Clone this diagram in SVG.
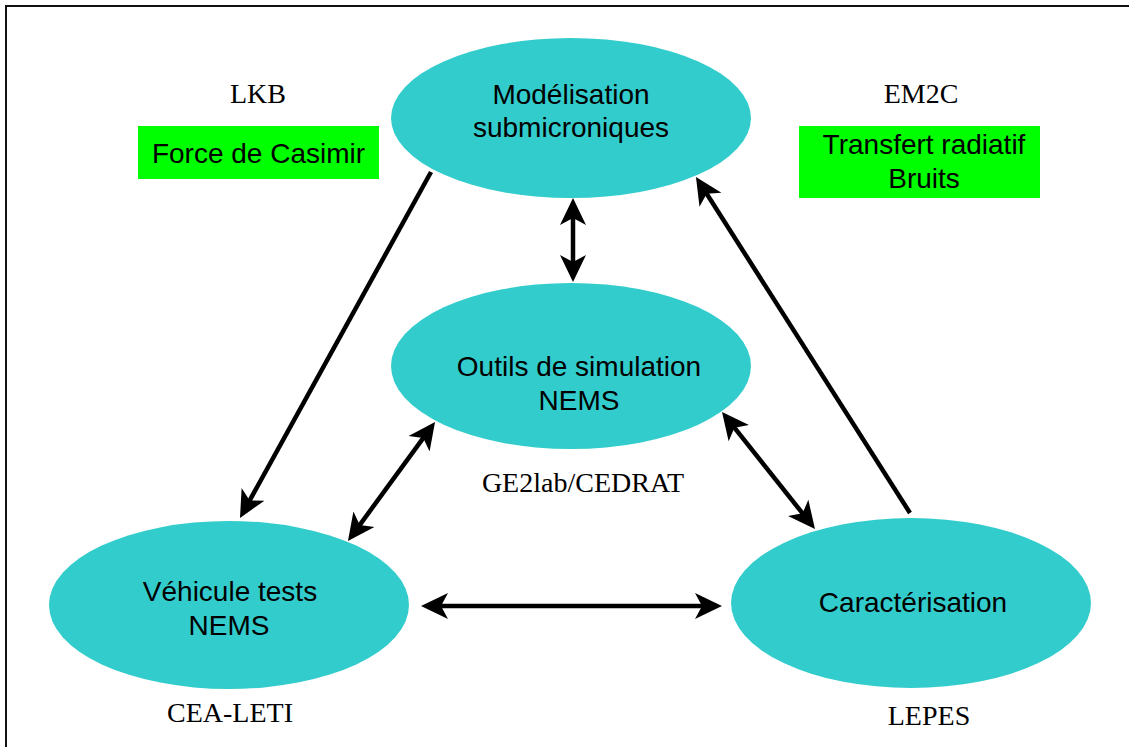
<svg xmlns="http://www.w3.org/2000/svg" width="1129" height="747" viewBox="0 0 1129 747">
<style>
.node{fill:#33CCCC;}
.lbl{font-family:"Liberation Sans",Arial,sans-serif;font-size:28px;fill:#000;text-anchor:middle;}
.org{font-family:"Liberation Serif","Times New Roman",serif;font-size:28px;fill:#000;text-anchor:middle;}
.box{fill:#00FF00;}
.conn{stroke:#000;stroke-width:4.5;fill:none;}
</style>
<defs>
<marker id="ah" markerUnits="userSpaceOnUse" markerWidth="30" markerHeight="30" viewBox="0 -15 30 30" refX="10" refY="0" orient="auto-start-reverse">
<path d="M27,0 L0,-13 L7,0 L0,13 Z" fill="#000"/>
</marker>
</defs>
<rect width="1129" height="747" fill="#fff"/>
<path d="M6,750 V6 H1132" fill="none" stroke="#111" stroke-width="2"/>

<g id="lkb">
<text class="org" x="258" y="103">LKB</text>
<rect class="box" x="138" y="126" width="241" height="53"/>
<text class="lbl" x="258.5" y="163">Force de Casimir</text>
</g>
<g id="em2c">
<text class="org" x="921" y="103">EM2C</text>
<rect class="box" x="799" y="126" width="241" height="72"/>
<text class="lbl" x="924" y="154">Transfert radiatif</text>
<text class="lbl" x="924" y="188">Bruits</text>
</g>

<g id="modelisation">
<ellipse class="node" cx="571" cy="118" rx="180" ry="80"/>
<text class="lbl" x="571" y="104">Modélisation</text>
<text class="lbl" x="571" y="137">submicroniques</text>
</g>
<g id="outils">
<ellipse class="node" cx="571" cy="366" rx="180" ry="83"/>
<text class="lbl" x="579" y="376">Outils de simulation</text>
<text class="lbl" x="579" y="410">NEMS</text>
<text class="org" x="583" y="492">GE2lab/CEDRAT</text>
</g>
<g id="vehicule">
<ellipse class="node" cx="229" cy="605" rx="180" ry="84"/>
<text class="lbl" x="230" y="601">Véhicule tests</text>
<text class="lbl" x="229" y="635">NEMS</text>
<text class="org" x="230" y="722">CEA-LETI</text>
</g>
<g id="caracterisation">
<ellipse class="node" cx="911" cy="603" rx="180" ry="85"/>
<text class="lbl" x="913" y="612">Caractérisation</text>
<text class="org" x="929" y="725">LEPES</text>
</g>

<g id="connectors">
<line class="conn" x1="431" y1="172" x2="248.2" y2="503.1" marker-end="url(#ah)"/>
<line class="conn" x1="425" y1="435.7" x2="358" y2="527.3" marker-start="url(#ah)" marker-end="url(#ah)"/>
<line class="conn" x1="573" y1="215" x2="573" y2="265" marker-start="url(#ah)" marker-end="url(#ah)"/>
<line class="conn" x1="438" y1="606" x2="705" y2="606" marker-start="url(#ah)" marker-end="url(#ah)"/>
<line class="conn" x1="732.6" y1="425.3" x2="804.4" y2="515.7" marker-start="url(#ah)" marker-end="url(#ah)"/>
<line class="conn" x1="910" y1="513" x2="705.1" y2="191.3" marker-end="url(#ah)"/>
</g>
</svg>
